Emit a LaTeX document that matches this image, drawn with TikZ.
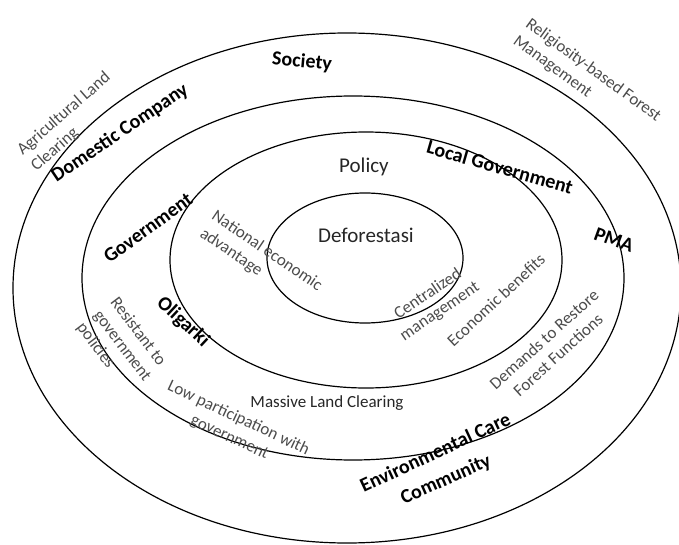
\documentclass[tikz,border=0pt]{standalone}
\usepackage{fontspec}
\setmainfont{Carlito}

\tikzset{
  ring/.style={line width=1.2pt},
  actor/.style={font=\fontsize{20}{24}\selectfont\bfseries, inner sep=0pt},
  note/.style={font=\fontsize{17}{21}\selectfont, text=black!70, inner sep=0pt},
  core/.style={font=\fontsize{21}{25}\selectfont, text=black!85, inner sep=0pt}
}

\begin{document}
\begin{tikzpicture}[x=1pt,y=-1pt]
			\useasboundingbox (0,0) rectangle (679,545);
			% rings
			\draw[ring] (347,288) ellipse [x radius=334, y radius=255];
			\draw[ring] (353,278) ellipse [x radius=271, y radius=182];
			\draw[ring] (366,260) ellipse [x radius=196, y radius=128];
			\draw[ring] (365,258) ellipse [x radius=98, y radius=65];
			% centre
			\node[core] (policy) at (364,167) {Policy};
			\node[core] (defor) at (366,235) {Deforestasi};
			\node[core, font=\fontsize{17}{21}\selectfont] (massive) at (327,403) {Massive Land Clearing};
			% actors
			\node[actor, rotate=-5] (society) at (302,62) {Society};
			\node[actor, rotate=34] (domestic) at (120,133) {Domestic Company};
			\node[actor, rotate=36] (gov) at (148,228) {Government};
			\node[actor, rotate=-43] (oligarki) at (183,322) {Oligarki};
			\node[actor, rotate=-16] (localgov) at (500,167) {Local Government};
			\node[actor, rotate=-20] (pma) at (614,240) {PMA};
			\node[actor, rotate=25] (envcare) at (435,452) {Environmental Care};
			\node[actor, rotate=24] (community) at (446,480) {Community};
			% notes
			\node[note, rotate=41, align=left] (agri) at (71,122) {Agricultural Land\\Clearing};
			\node[note, rotate=-36, align=left] (relig) at (587,79) {Religiosity-based Forest\\Management};
			\node[note, rotate=-34, align=left] (national) at (261,260) {National economic\\advantage};
			\node[note, rotate=-53, align=left] (resist) at (122,346) {Resistant to\\government\\policies};
			\node[note, rotate=-25, align=center] (lowpart) at (234,428) {Low participation with\\government};
			\node[note, rotate=34, align=center] (central) at (434,303) {Centralized\\management};
			\node[note, rotate=43] (econ) at (496,300) {Economic benefits};
			\node[note, rotate=42, align=center] (demands) at (551,347) {Demands to Restore\\Forest Functions};
		\end{tikzpicture}
\end{document}
